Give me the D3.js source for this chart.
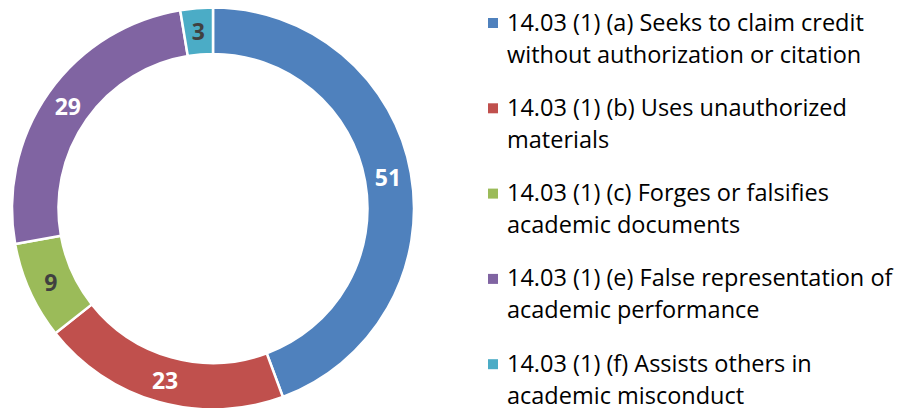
<!DOCTYPE html>
<html>
<head>
<meta charset="utf-8">
<script src="https://cdn.jsdelivr.net/npm/d3@7"></script>
<style>
  html, body { margin: 0; padding: 0; background: #fff; }
  svg { display: block; }
  text { font-variant-ligatures: none; }
</style>
</head>
<body>
<svg id="chart" width="905" height="408"></svg>
<script>
// Academic misconduct cases by policy clause
const categories = [
  "14.03 (1) (a) Seeks to claim credit without authorization or citation",
  "14.03 (1) (b) Uses unauthorized materials",
  "14.03 (1) (c) Forges or falsifies academic documents",
  "14.03 (1) (e) False representation of academic performance",
  "14.03 (1) (f) Assists others in academic misconduct"
];
const legendLines = [
  ["14.03 (1) (a) Seeks to claim credit", "without authorization or citation"],
  ["14.03 (1) (b) Uses unauthorized", "materials"],
  ["14.03 (1) (c) Forges or falsifies", "academic documents"],
  ["14.03 (1) (e) False representation of", "academic performance"],
  ["14.03 (1) (f) Assists others in", "academic misconduct"]
];
const values = [51, 23, 9, 29, 3];
const colors = ["#4F81BD", "#C0504D", "#9BBB59", "#8064A2", "#4BACC6"];
const labelColors = ["#ffffff", "#ffffff", "#404040", "#ffffff", "#404040"];

const data = categories.map((c, i) => ({ cat: c, value: values[i], i }));

const svg = d3.select("#chart");
const font = "'Open Sans', sans-serif";

const cx = 213, cy = 208.5;
const outerR = 201, innerR = 154.5;

const pie = d3.pie().value(d => d.value).sort(null);
const arc = d3.arc().innerRadius(innerR).outerRadius(outerR);

const g = svg.append("g").attr("transform", `translate(${cx},${cy})`);
const arcs = pie(data);

g.selectAll("path.slice")
  .data(arcs)
  .join("path")
  .attr("class", "slice")
  .attr("d", arc)
  .attr("fill", d => colors[d.data.i])
  .attr("stroke", "#fff")
  .attr("stroke-width", 2.5);

g.selectAll("text.val")
  .data(arcs)
  .join("text")
  .attr("class", "val")
  .attr("transform", d => `translate(${arc.centroid(d)})`)
  .attr("text-anchor", "middle")
  .attr("dominant-baseline", "central")
  .attr("font-family", font)
  .attr("font-weight", "bold")
  .attr("font-size", 23)
  .attr("fill", d => labelColors[d.data.i])
  .text(d => d.data.value);

// Legend: swatch + two-line label per category
const legend = svg.append("g");
const legX = 488, baseY0 = 30.5, itemStep = 85.3, lineStep = 32;

const items = legend.selectAll("g.item")
  .data(data)
  .join("g")
  .attr("class", "item")
  .attr("transform", d => `translate(${legX},${baseY0 + d.i * itemStep})`);

items.append("rect")
  .attr("x", 0).attr("y", -12.5)
  .attr("width", 10).attr("height", 10)
  .attr("fill", d => colors[d.i]);

items.each(function(d) {
  const t = d3.select(this).append("text")
    .attr("font-family", font)
    .attr("font-size", 23.5)
    .attr("fill", "#000");
  legendLines[d.i].forEach((ln, k) => {
    t.append("tspan")
      .attr("x", 19)
      .attr("y", k * lineStep)
      .text(ln);
  });
});
</script>
</body>
</html>
